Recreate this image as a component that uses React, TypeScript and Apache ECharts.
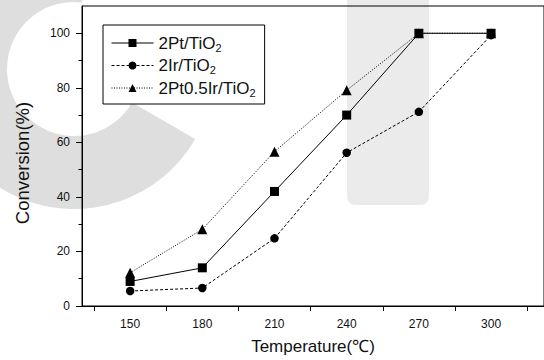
import React, { useEffect, useRef } from 'react';
import * as echarts from 'echarts';

const temperatures = [150, 180, 210, 240, 270, 300];
const ptValues = [9, 14, 42, 70, 100, 100];
const irValues = [5.5, 6.6, 24.8, 56.2, 71.2, 99.3];
const ptIrValues = [12.2, 28.1, 56.6, 79.1, 100, 100];
const seriesNames = ['2Pt/TiO2', '2Ir/TiO2', '2Pt0.5Ir/TiO2'];
const xLabelValues = [150, 180, 210, 240, 270, 300];
const xTickValues = [135, 165, 195, 225, 255, 285, 315];
const yLabelValues = [0, 20, 40, 60, 80, 100];
const yMinorTickValues = [10, 30, 50, 70, 90];

const FONT = '"Liberation Sans", Arial, sans-serif';
const TEXT = '#111';

function pairs(vals: number[]) {
  return temperatures.map((t, i) => [t, vals[i]]);
}

export default function App() {
  const ref = useRef<HTMLDivElement>(null);
  useEffect(() => {
    document.body.style.margin = '0';
    const chart = echarts.init(ref.current!, null, { renderer: 'svg' });
    const axisLine = { show: true, lineStyle: { color: '#000', width: 1 } };
    const option: any = {
      animation: false,
      backgroundColor: '#fff',
      textStyle: { fontFamily: FONT },
      graphic: [
        {
          type: 'sector',
          z: -10,
          silent: true,
          shape: {
            cx: 74,
            cy: 69,
            r0: 67,
            r: 140,
            startAngle: (30 * Math.PI) / 180,
            endAngle: (277 * Math.PI) / 180,
            clockwise: true,
          },
          style: { fill: '#dedede' },
        },
        {
          type: 'rect',
          z: -10,
          silent: true,
          shape: { x: 347, y: -12, width: 82, height: 217, r: 8 },
          style: { fill: '#ebebeb' },
        },
      ],
      grid: {
        left: 82,
        top: 6,
        width: 464,
        height: 300,
        show: true,
        borderColor: '#000',
        borderWidth: 1,
        backgroundColor: 'transparent',
      },
      legend: {
        orient: 'vertical',
        left: 103,
        top: 25,
        padding: [8, 9, 6, 8],
        itemWidth: 42,
        itemHeight: 10,
        itemGap: 2.5,
        itemTextGap: 5,
        borderColor: '#000',
        borderWidth: 1,
        backgroundColor: '#fff',
        data: seriesNames,
        lineStyle: { width: 1 },
        formatter: (name: string) => name.replace(/2$/, '') + '{sub|2}',
        textStyle: {
          fontFamily: FONT,
          fontSize: 17,
          color: TEXT,
          lineHeight: 20,
          rich: {
            sub: { fontFamily: FONT, fontSize: 11, color: TEXT, verticalAlign: 'bottom', lineHeight: 8 },
          },
        },
      },
      xAxis: {
        type: 'value',
        min: 130,
        max: 322,
        axisLine,
        axisTick: { show: true, length: 5, customValues: xTickValues, lineStyle: { color: '#000' } },
        axisLabel: { customValues: xLabelValues, fontSize: 12, color: TEXT, margin: 12, fontFamily: FONT },
        splitLine: { show: false },
        name: 'Temperature(℃)',
        nameLocation: 'middle',
        nameGap: 32,
        nameTextStyle: { fontSize: 17, color: TEXT, fontFamily: FONT },
      },
      yAxis: [
        {
          type: 'value',
          min: 0,
          max: 110,
          position: 'left',
          axisLine,
          axisTick: { show: true, length: 6, customValues: yLabelValues, lineStyle: { color: '#000' } },
          axisLabel: { customValues: yLabelValues, fontSize: 12, color: TEXT, margin: 12, fontFamily: FONT },
          splitLine: { show: false },
          name: 'Conversion(%)',
          nameLocation: 'middle',
          nameGap: 50,
          nameTextStyle: { fontSize: 18.5, color: TEXT, fontFamily: FONT, padding: [0, 14, 0, 0] },
        },
        {
          type: 'value',
          min: 0,
          max: 110,
          position: 'left',
          axisLine: { show: false },
          axisTick: { show: true, length: 3.5, customValues: yMinorTickValues, lineStyle: { color: '#000' } },
          axisLabel: { show: false },
          splitLine: { show: false },
        },
      ],
      series: [
        {
          name: seriesNames[0],
          type: 'line',
          data: pairs(ptValues),
          symbol: 'rect',
          symbolSize: 9,
          color: '#000',
          lineStyle: { color: '#000', width: 1, type: 'solid' },
          itemStyle: { color: '#000' },
        },
        {
          name: seriesNames[1],
          type: 'line',
          data: pairs(irValues),
          symbol: 'circle',
          symbolSize: 8.5,
          color: '#000',
          lineStyle: { color: '#000', width: 1, type: [3, 2] },
          itemStyle: { color: '#000' },
        },
        {
          name: seriesNames[2],
          type: 'line',
          data: pairs(ptIrValues),
          symbol: 'triangle',
          symbolSize: 10,
          color: '#000',
          lineStyle: { color: '#000', width: 1, type: [1, 1.5] },
          itemStyle: { color: '#000' },
        },
      ],
    };
    chart.setOption(option);
    return () => chart.dispose();
  }, []);
  return (
    <div
      ref={ref}
      style={{ position: 'absolute', left: 0, top: 0, width: 544, height: 360, background: '#fff' }}
    />
  );
}
